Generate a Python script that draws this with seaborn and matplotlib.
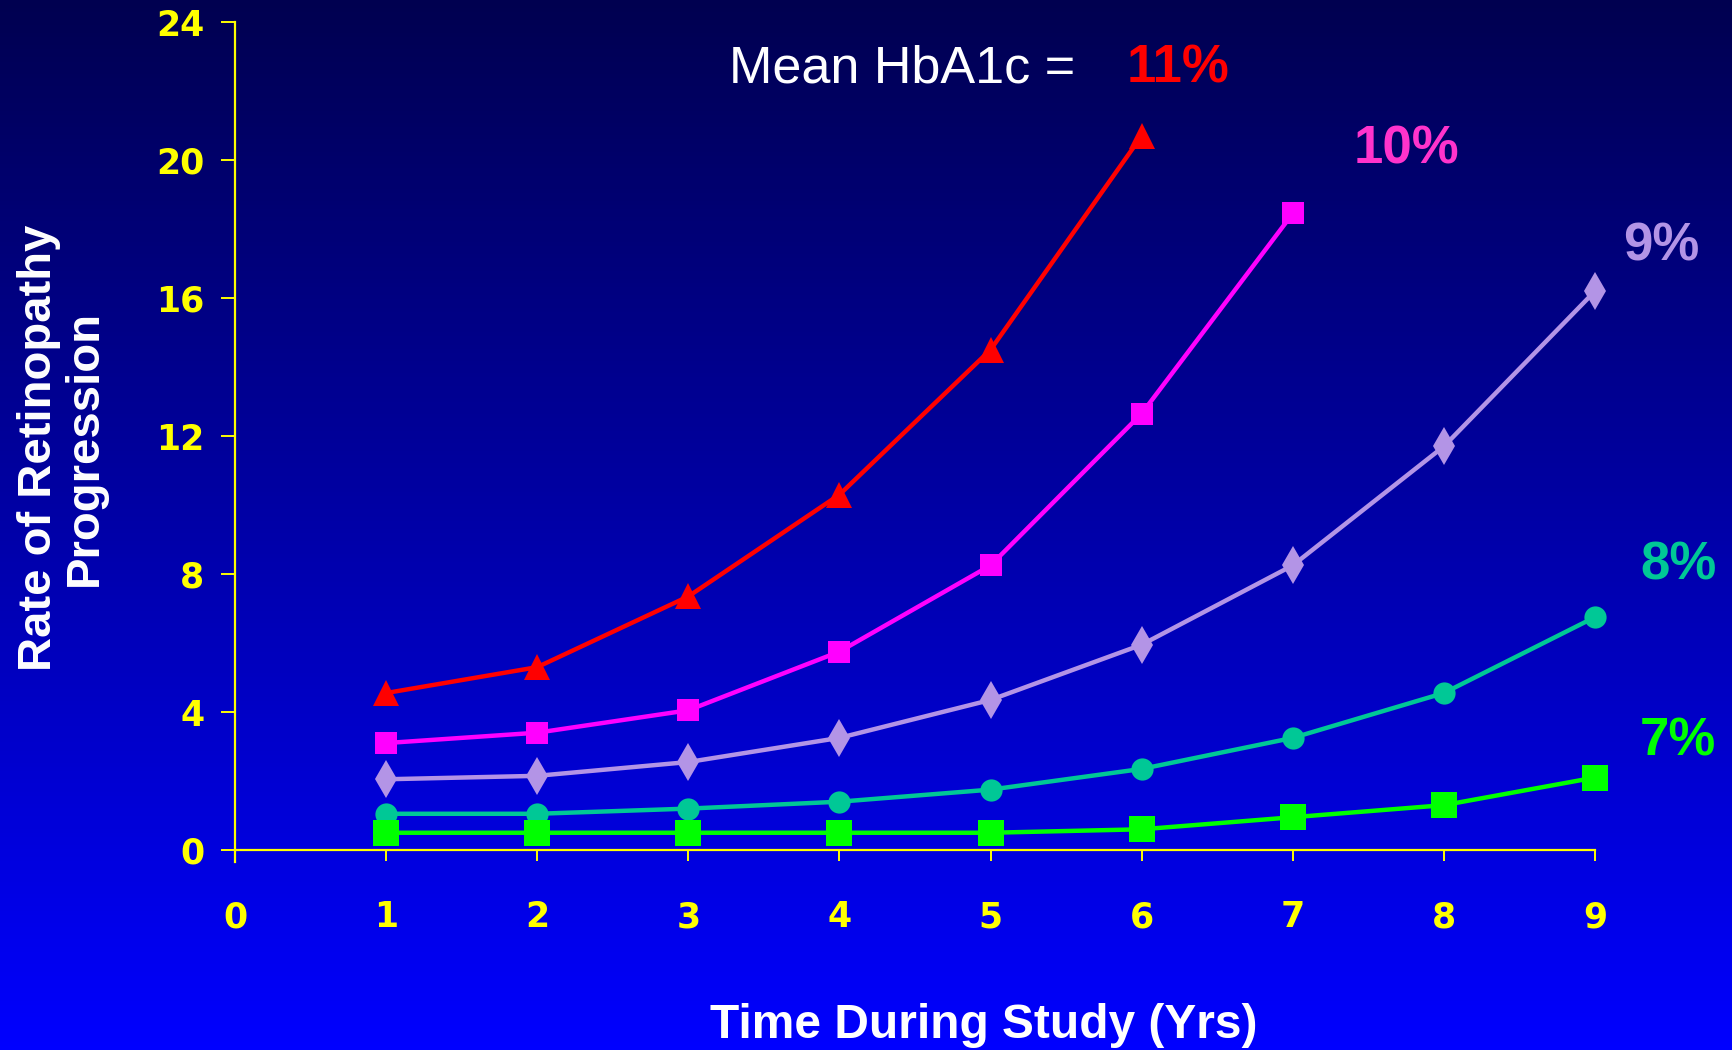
import numpy as np
import pandas as pd
import matplotlib.pyplot as plt
import seaborn as sns

sns.set_style("ticks")
plt.rcParams['font.family'] = ['Liberation Sans', 'DejaVu Sans']

# values
years = [1, 2, 3, 4, 5, 6, 7, 8, 9]
hba1c_11 = [4.55, 5.3, 7.35, 10.3, 14.5, 20.7]
hba1c_10 = [3.1, 3.4, 4.05, 5.75, 8.25, 12.65, 18.45]
hba1c_9 = [2.05, 2.15, 2.55, 3.25, 4.35, 5.95, 8.25, 11.7, 16.2]
hba1c_8 = [1.05, 1.05, 1.2, 1.4, 1.75, 2.35, 3.25, 4.55, 6.75]
hba1c_7 = [0.5, 0.5, 0.5, 0.5, 0.5, 0.6, 0.95, 1.3, 2.1]
y_ticks = [0, 4, 8, 12, 16, 20, 24]
x_ticks = [0, 1, 2, 3, 4, 5, 6, 7, 8, 9]

W, H = 1733, 1050
fig = plt.figure(figsize=(W / 100, H / 100), dpi=100)

# background gradient navy -> blue
bg = fig.add_axes([0, 0, 1, 1], zorder=-10)
grad = np.linspace(0, 1, 256).reshape(-1, 1)
top = np.array([0x00, 0x00, 0x50]) / 255
bot = np.array([0x00, 0x00, 0xFF]) / 255
img = top + (bot - top) * grad[..., None]
bg.imshow(img, aspect='auto', extent=[0, 1, 0, 1], origin='upper')
bg.axis('off')

ymin = -0.35
px_per = (850 - 22) / 24
ax_bottom = 850 + (-ymin) * px_per
ax = fig.add_axes([235 / W, 1 - ax_bottom / H, (1595 - 235) / W, (ax_bottom - 22) / H])
ax.set_facecolor('none')

series = [
    (hba1c_11, '#FF0000', '^', 19),
    (hba1c_10, '#FF00FF', 's', 16),
    (hba1c_9, '#B394E6', 'd', 19),
    (hba1c_8, '#00C896', 'o', 16),
    (hba1c_7, '#00FF00', 's', 19),
]
for vals, col, mk, ms in series:
    df = pd.DataFrame({'year': years[:len(vals)], 'rate': vals})
    sns.lineplot(data=df, x='year', y='rate', ax=ax, color=col, lw=3.2,
                 marker=mk, markersize=ms, markeredgewidth=0,
                 clip_on=False, zorder=5)

ax.set_xlim(0, 9)
ax.set_ylim(ymin, 24)
ax.set_xticks(x_ticks)
ax.set_yticks(y_ticks)
ax.spines['top'].set_visible(False)
ax.spines['right'].set_visible(False)
ax.spines['bottom'].set_position(('data', 0))
for s in ['left', 'bottom']:
    ax.spines[s].set_color('#FFFF00')
    ax.spines[s].set_linewidth(1.6)
ax.tick_params(axis='y', colors='#FFFF00', length=10, width=1.4, pad=12)
ax.tick_params(axis='x', colors='#FFFF00', length=8, width=1.4, pad=28)
for lab in ax.get_xticklabels() + ax.get_yticklabels():
    lab.set_fontfamily('DejaVu Sans')
    lab.set_fontweight('bold')
    lab.set_fontsize(25)
    lab.set_color('#FFFF00')
ax.set_xlabel('')
ax.set_ylabel('')

# annotations
ax.text(3.27, 22.65, 'Mean HbA1c =', color='white', fontsize=37.5, va='center', ha='left')
ax.text(5.9, 22.65, '11%', color='#FF0000', fontsize=38, fontweight='bold', va='center', ha='left')
ax.text(7.75, 20.3, '10%', color='#FF33CC', fontsize=38, fontweight='bold', va='center', ha='center')
ax.text(9.44, 17.5, '9%', color='#B394E6', fontsize=38, fontweight='bold', va='center', ha='center', clip_on=False)
ax.text(9.55, 8.25, '8%', color='#00C896', fontsize=38, fontweight='bold', va='center', ha='center', clip_on=False)
ax.text(9.55, 3.15, '7%', color='#00FF00', fontsize=38, fontweight='bold', va='center', ha='center', clip_on=False)

fig.text(984 / W, 1 - 1026 / H, 'Time During Study (Yrs)', color='white', fontsize=34.5,
         fontweight='bold', ha='center', va='center')
fig.text(62 / W, 1 - 448 / H, 'Rate of Retinopathy\nProgression', color='white', fontsize=34,
         fontweight='bold', ha='center', va='center', rotation=90, multialignment='center',
         linespacing=1.05)

fig.savefig('out.png', dpi=100)
